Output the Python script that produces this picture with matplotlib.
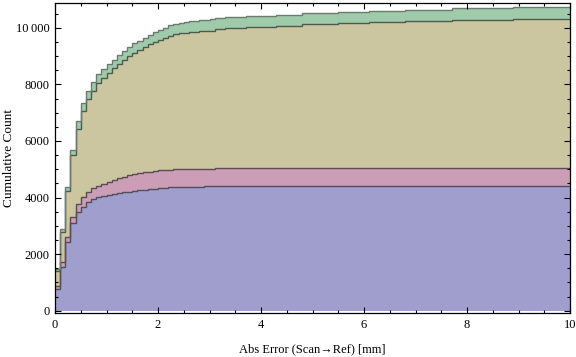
import numpy as np
import matplotlib
matplotlib.rcParams['figure.dpi'] = 100
import matplotlib.pyplot as plt
from matplotlib.ticker import MultipleLocator, FuncFormatter

plt.rcParams['font.family'] = ['Liberation Serif', 'DejaVu Serif']

# Cumulative counts per 0.1 mm bin, one list per group (stacked bottom -> top)
bin_width = 0.1
blue = [760, 1555, 2417, 3089, 3499, 3675, 3831, 3937, 4007, 4045,
        4100, 4130, 4160, 4180, 4210, 4240, 4260, 4280, 4300, 4320,
        4335, 4350, 4360, 4365, 4370, 4378, 4383, 4387, 4390, 4392,
        4394, 4396, 4397, 4398, 4399, 4400, 4400, 4400, 4400, 4400,
        4400, 4400, 4400, 4400, 4400, 4400, 4400, 4400, 4400, 4400,
        4400, 4400, 4400, 4400, 4400, 4400, 4400, 4400, 4400, 4400,
        4400, 4400, 4400, 4400, 4400, 4400, 4400, 4400, 4400, 4400,
        4400, 4400, 4400, 4400, 4400, 4400, 4400, 4400, 4400, 4400,
        4400, 4400, 4400, 4400, 4400, 4400, 4400, 4400, 4400, 4400,
        4400, 4400, 4400, 4400, 4400, 4400, 4400, 4400, 4400, 4400]
pink = [120, 155, 200, 235, 290, 330, 360, 385, 410, 440,
        465, 490, 515, 550, 570, 590, 600, 610, 618, 624,
        628, 630, 631, 632, 632, 632, 632, 632, 632, 632,
        632, 632, 632, 632, 632, 632, 632, 632, 632, 632,
        632, 632, 632, 632, 632, 632, 632, 632, 632, 632,
        632, 632, 632, 632, 632, 632, 632, 632, 632, 632,
        632, 632, 632, 632, 632, 632, 632, 632, 632, 632,
        632, 632, 632, 632, 632, 632, 632, 632, 632, 632,
        632, 632, 632, 632, 632, 632, 632, 632, 632, 632,
        632, 632, 632, 632, 632, 632, 632, 632, 632, 632]
olive = [534, 1082, 1613, 2178, 2622, 3063, 3280, 3453, 3641, 3749,
         3846, 3947, 4043, 4130, 4221, 4288, 4353, 4418, 4497, 4563,
         4604, 4668, 4728, 4771, 4801, 4815, 4835, 4841, 4848, 4873,
         4873, 4917, 4917, 4950, 4950, 4950, 4950, 4988, 4988, 4988,
         4988, 4988, 4988, 5029, 5029, 5029, 5029, 5029, 5089, 5089,
         5089, 5089, 5089, 5089, 5089, 5135, 5135, 5135, 5135, 5135,
         5135, 5171, 5171, 5171, 5171, 5171, 5171, 5171, 5206, 5206,
         5206, 5206, 5206, 5206, 5206, 5206, 5206, 5252, 5252, 5252,
         5252, 5252, 5252, 5252, 5252, 5252, 5252, 5252, 5252, 5293,
         5293, 5293, 5293, 5293, 5293, 5293, 5293, 5293, 5293, 5293]
green = [49, 106, 142, 177, 280, 285, 288, 292, 296, 300,
         305, 310, 315, 320, 325, 330, 335, 340, 345, 350,
         355, 360, 365, 370, 375, 380, 385, 388, 390, 391,
         393, 393, 393, 393, 393, 393, 393, 393, 393, 393,
         396, 396, 396, 396, 396, 396, 396, 396, 396, 396,
         396, 396, 396, 396, 396, 396, 396, 396, 396, 396,
         398, 398, 398, 398, 398, 398, 398, 398, 398, 398,
         398, 398, 398, 398, 398, 398, 398, 398, 398, 398,
         400, 400, 400, 400, 400, 400, 400, 400, 400, 400,
         400, 400, 400, 400, 400, 400, 400, 400, 400, 400]

layers = [blue, pink, olive, green]
face_colors = ['#a09ecd', '#cc9db7', '#cbc69f', '#9fcbab']
edge_colors = ['#4f4f5c', '#5c4a55', '#4d5a4f', '#6c7a70']

fig = plt.figure(figsize=(5.76, 3.57))
ax = fig.add_axes([0.0955, 0.1232, 0.8941, 0.8684])

edges = np.arange(len(blue) + 1) * bin_width
bottom = np.zeros(len(blue))
for vals, fc in zip(layers, face_colors):
    top = bottom + np.array(vals)
    ax.stairs(top, edges, baseline=bottom, fill=True, color=fc, lw=0)
    bottom = top

# outline each layer top
bottom = np.zeros(len(blue))
for vals, ec in zip(layers, edge_colors):
    top = bottom + np.array(vals)
    ax.stairs(top, edges, baseline=None, color=ec, lw=1.0)
    bottom = top

ax.set_xlim(0, 10)
ax.set_ylim(-80, 10875)

ax.xaxis.set_major_locator(MultipleLocator(2))
ax.xaxis.set_minor_locator(MultipleLocator(0.5))
ax.yaxis.set_major_locator(MultipleLocator(2000))
ax.yaxis.set_minor_locator(MultipleLocator(500))
ax.yaxis.set_major_formatter(FuncFormatter(
    lambda v, p: '10\u2009000' if v >= 10000 else f'{v:.0f}'))

ax.tick_params(which='both', direction='in', top=True, right=True,
               labelsize=9, width=0.8, colors='black')
ax.tick_params(which='major', length=4, pad=4)
ax.tick_params(which='minor', length=2.2)
for s in ax.spines.values():
    s.set_linewidth(0.9)

ax.set_xlabel('Abs Error (Scan\u2192Ref) [mm]', fontsize=9, labelpad=9)
ax.set_ylabel('Cumulative Count', fontsize=9.5)
ax.yaxis.set_label_coords(-0.077, 0.5)

plt.savefig('out.png', dpi=100)
